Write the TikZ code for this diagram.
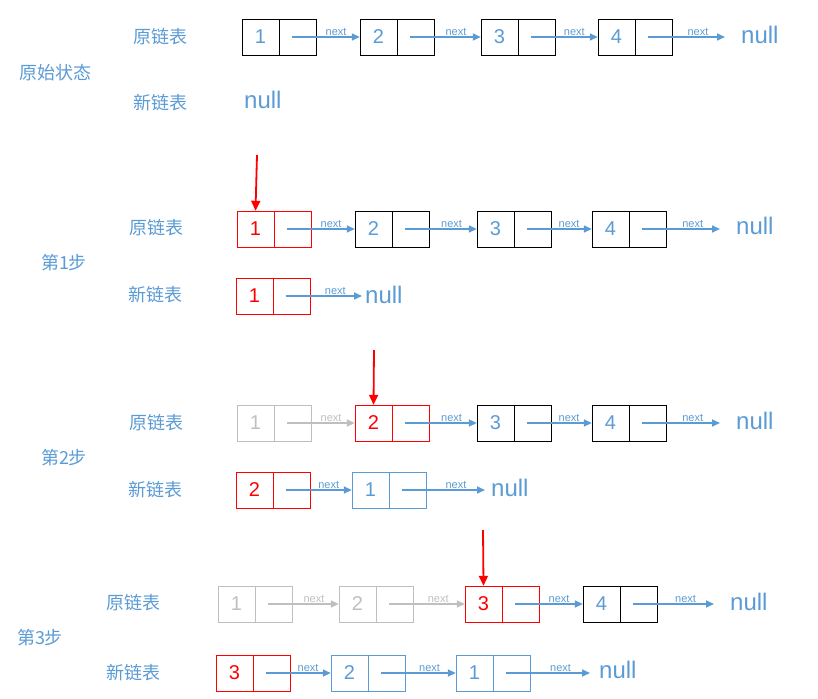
\documentclass[tikz,border=0pt]{standalone}
\usepackage{fontspec}
\setmainfont{Liberation Sans}
\newfontfamily\cjk{Noto Sans CJK SC}
\usetikzlibrary{arrows.meta,positioning}
\definecolor{lblue}{RGB}{91,155,213}
\definecolor{lgray}{RGB}{191,191,191}
\newcommand{\listcell}[5]{%
  \node[half,#5] (#1l) at (#2,#3) {#4};
  \node[half,#5,anchor=west] (#1r) at (#1l.east) {};}
\begin{document}
\begin{tikzpicture}[x=1pt,y=-1pt,
    half/.style={draw,rectangle,minimum width=37pt,minimum height=36pt,inner sep=0pt,font=\fontsize{20}{24}\selectfont},
    plain/.style={text=lblue},
    hit/.style={draw=red,text=red},
    done/.style={draw=lgray,text=lgray},
    newc/.style={draw=lblue,text=lblue},
    arrow/.style={-{Triangle[length=8pt,width=7pt]},line width=1.6pt,draw=lblue},
    garrow/.style={arrow,draw=lgray},
    pointer/.style={-{Triangle[length=10pt,width=9pt]},line width=1.8pt,draw=red},
    nx/.style={font=\fontsize{11}{13}\selectfont,text=lblue,above,inner sep=1pt},
    gnx/.style={nx,text=lgray},
    nul/.style={font=\fontsize{24}{28}\selectfont,text=lblue,anchor=west,inner sep=0pt},
    tag/.style={font=\cjk\fontsize{18}{22}\selectfont,text=lblue}
]
\useasboundingbox (0,0) rectangle (818,698);

% original state
\node[tag] at (55,73) {原始状态};
\node[tag] at (160,37) {原链表};
\node[tag] at (160,103) {新链表};
\listcell{a1}{260.5}{37}{1}{plain}
\listcell{a2}{378.5}{37}{2}{plain}
\listcell{a3}{499.5}{37}{3}{plain}
\listcell{a4}{616.5}{37}{4}{plain}
\coordinate (a5l) at (725,37);
\node[nul] (anull) at (741,35) {null};
\node[nul] at (244,100) {null};
\foreach \p/\q in {a1/a2,a2/a3,a3/a4,a4/a5}{
  \draw[arrow] ([xshift=-6pt]\p r.center) -- node[nx,pos=0.65] {next} (\q l.west);}

% step 1
\node[tag] at (64,263) {第1步};
\node[tag] at (156,228) {原链表};
\node[tag] at (155,295) {新链表};
\listcell{b1}{255.5}{229}{1}{hit}
\listcell{b2}{373.5}{229}{2}{plain}
\listcell{b3}{495.5}{229}{3}{plain}
\listcell{b4}{610.5}{229}{4}{plain}
\coordinate (b5l) at (720,229);
\node[nul] at (736,226) {null};
\foreach \p/\q in {b1/b2,b2/b3,b3/b4,b4/b5}{
  \draw[arrow] ([xshift=-6pt]\p r.center) -- node[nx,pos=0.65] {next} (\q l.west);}
\coordinate (b0) at (257,155);
\draw[pointer] (b0) -- (b1l.north);
\listcell{c1}{254.5}{296}{1}{hit}
\coordinate (c2l) at (362,296);
\node[nul] at (365,295) {null};
\draw[arrow] ([xshift=-6pt]c1r.center) -- node[nx,pos=0.65] {next} (c2l);

% step 2
\node[tag] at (64,458) {第2步};
\node[tag] at (156,423) {原链表};
\node[tag] at (155,490) {新链表};
\listcell{d1}{255.5}{423}{1}{done}
\listcell{d2}{373.5}{423}{2}{hit}
\listcell{d3}{495.5}{423}{3}{plain}
\listcell{d4}{610.5}{423}{4}{plain}
\coordinate (d5l) at (720,423);
\node[nul] at (736,421) {null};
\draw[garrow] ([xshift=-6pt]d1r.center) -- node[gnx,pos=0.65] {next} (d2l.west);
\foreach \p/\q in {d2/d3,d3/d4,d4/d5}{
  \draw[arrow] ([xshift=-6pt]\p r.center) -- node[nx,pos=0.65] {next} (\q l.west);}
\coordinate (d0) at (374,350);
\draw[pointer] (d0) -- (d2l.north);
\listcell{e1}{254.5}{490}{2}{hit}
\listcell{e2}{370.5}{490}{1}{newc}
\coordinate (e3l) at (485,490);
\node[nul] at (491,488) {null};
\draw[arrow] ([xshift=-6pt]e1r.center) -- node[nx,pos=0.65] {next} (e2l.west);
\draw[arrow] ([xshift=-6pt]e2r.center) -- node[nx,pos=0.65] {next} (e3l);

% step 3
\node[tag] at (40,638) {第3步};
\node[tag] at (133,603) {原链表};
\node[tag] at (133,673) {新链表};
\listcell{f1}{236.5}{604}{1}{done}
\listcell{f2}{357.5}{604}{2}{done}
\listcell{f3}{483.5}{604}{3}{hit}
\listcell{f4}{601.5}{604}{4}{plain}
\coordinate (f5l) at (714,604);
\node[nul] at (730,602) {null};
\draw[garrow] ([xshift=-6pt]f1r.center) -- node[gnx,pos=0.65] {next} (f2l.west);
\draw[garrow] ([xshift=-6pt]f2r.center) -- node[gnx,pos=0.65] {next} (f3l.west);
\foreach \p/\q in {f3/f4,f4/f5}{
  \draw[arrow] ([xshift=-6pt]\p r.center) -- node[nx,pos=0.65] {next} (\q l.west);}
\coordinate (f0) at (483,530);
\draw[pointer] (f0) -- (f3l.north);
\listcell{g1}{234.5}{673}{3}{hit}
\listcell{g2}{349.5}{673}{2}{newc}
\listcell{g3}{474.5}{673}{1}{newc}
\coordinate (g4l) at (590,673);
\node[nul] at (599,670) {null};
\draw[arrow] ([xshift=-6pt]g1r.center) -- node[nx,pos=0.65] {next} (g2l.west);
\draw[arrow] ([xshift=-6pt]g2r.center) -- node[nx,pos=0.65] {next} (g3l.west);
\draw[arrow] ([xshift=-6pt]g3r.center) -- node[nx,pos=0.65] {next} (g4l);
\end{tikzpicture}
\end{document}
